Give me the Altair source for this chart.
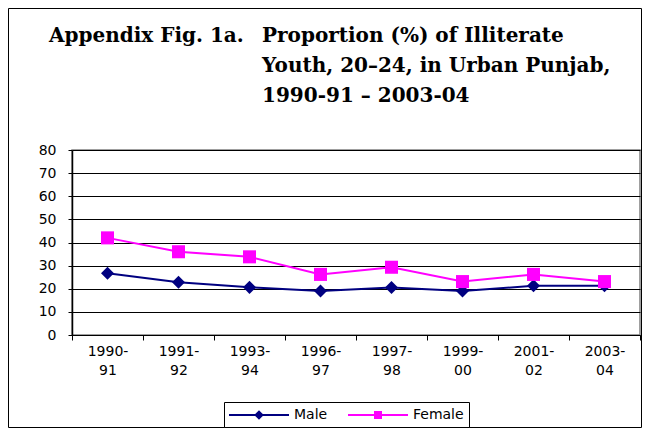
import altair as alt
import pandas as pd

categories = ["1990-91", "1991-92", "1993-94", "1996-97", "1997-98", "1999-00", "2001-02", "2003-04"]
male = [26.7, 22.8, 20.6, 19.0, 20.5, 19.0, 21.3, 21.3]
female = [42.0, 36.0, 33.8, 26.2, 29.3, 23.1, 26.2, 23.1]
series_names = ["Male", "Female"]
series_colors = ["#000080", "#FF00FF"]

title_lead = "Appendix Fig. 1a."
title_line1 = "Proportion (%) of Illiterate"
title_line2 = "Youth, 20\u201324, in Urban Punjab,"
title_line3 = "1990-91 \u2013 2003-04"

df = pd.DataFrame({
    "period": categories * 2,
    "series": ["Male"] * len(categories) + ["Female"] * len(categories),
    "value": male + female,
})

SANS = "DejaVu Sans"
SERIF = "DejaVu Serif"

x_enc = alt.X(
    "period:N", sort=categories,
    scale=alt.Scale(type="band", paddingInner=0, paddingOuter=0),
    axis=alt.Axis(
        title=None, labelAngle=0, tickBand="extent", tickSize=5, tickColor="black",
        domainColor="black", domainWidth=1, grid=False,
        labelExpr="[slice(datum.label, 0, 5), slice(datum.label, 5)]",
        labelFont=SANS, labelFontSize=14, labelColor="black",
        labelLineHeight=19, labelPadding=4,
    ),
)
y_enc = alt.Y(
    "value:Q",
    scale=alt.Scale(domain=[0, 80], nice=False),
    axis=alt.Axis(
        title=None, values=list(range(0, 81, 10)), grid=True, gridColor="black",
        gridWidth=1, gridOpacity=1, tickSize=4, tickColor="black", domainColor="black",
        domainWidth=1.5, labelFont=SANS, labelFontSize=14, labelColor="black",
        labelPadding=12,
    ),
)


def color_enc(legend):
    return alt.Color("series:N", scale=alt.Scale(domain=series_names, range=series_colors),
                     legend=legend)


lines = alt.Chart(df).mark_line(strokeWidth=2).encode(x=x_enc, y=y_enc, color=color_enc(None))

points = alt.Chart(df).mark_point(filled=True, size=170, opacity=1).encode(
    x=x_enc, y=y_enc, color=color_enc(None),
    shape=alt.Shape("series:N", scale=alt.Scale(domain=series_names, range=["diamond", "square"]),
                    legend=None),
)

# legend symbols: a line segment with the series marker on it
male_symbol = ("M-1,-0.125L6.5,-0.125L6.5,0.125L-1,0.125Z "
               "M2.75,-0.6L3.35,0L2.75,0.6L2.15,0Z")
female_symbol = ("M-1,-0.125L6.5,-0.125L6.5,0.125L-1,0.125Z "
                 "M2.25,-0.5L3.25,-0.5L3.25,0.5L2.25,0.5Z")

legend_def = alt.Legend(
    title=None, orient="none", legendX=152, legendY=252, direction="horizontal",
    symbolSize=256, symbolStrokeWidth=0, labelFont=SANS, labelFontSize=14,
    labelColor="black", labelOffset=49, columnPadding=20, padding=5,
    strokeColor="black", fillColor="white", cornerRadius=0,
)
legend_layer = alt.Chart(df).transform_filter("false").mark_point(filled=True, opacity=1).encode(
    color=color_enc(legend_def),
    shape=alt.Shape("series:N", scale=alt.Scale(domain=series_names, range=[male_symbol, female_symbol]),
                    legend=legend_def),
)

one = alt.Data(values=[{"k": 1}])
title_style = dict(align="left", baseline="alphabetic", font=SERIF, fontSize=20,
                   fontWeight="bold", color="black")
t0 = alt.Chart(one).mark_text(text=title_lead, x=-23, y=-108, **title_style)
t1 = alt.Chart(one).mark_text(text=title_line1, x=190, y=-108, **title_style)
t2 = alt.Chart(one).mark_text(text=title_line2, x=190, y=-78, **title_style)
t3 = alt.Chart(one).mark_text(text=title_line3, x=190, y=-48, **title_style)

frame = alt.Chart(one).mark_rect(fillOpacity=0, stroke="black", strokeWidth=1).encode(
    x=alt.value(-63.5), x2=alt.value(569.5), y=alt.value(-141.5), y2=alt.value(277.5)
)

chart = alt.layer(lines, points, legend_layer, t0, t1, t2, t3, frame).resolve_scale(
    shape="independent", color="independent"
).properties(
    width=568, height=185,
    padding={"left": 64, "top": 142, "right": 2, "bottom": 93},
    autosize=alt.AutoSizeParams(type="none"),
    background="white",
).configure_view(fill="#C0C0C0", stroke="#808080", strokeWidth=1.5)

chart.save("out.html", embed_options={"renderer": "svg", "actions": False})
